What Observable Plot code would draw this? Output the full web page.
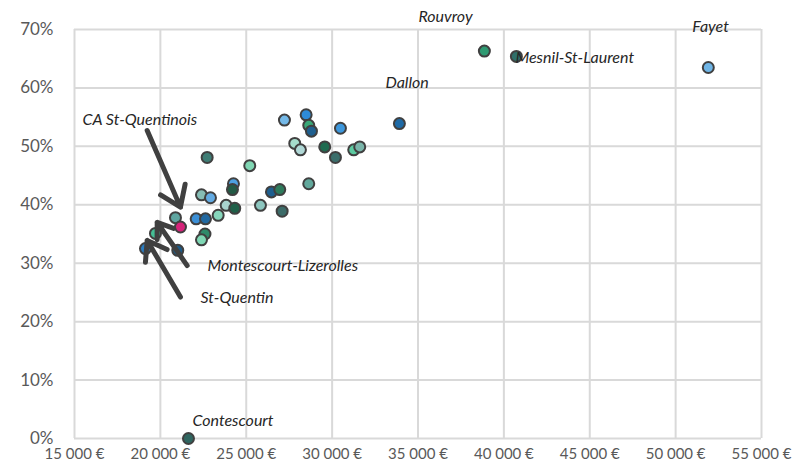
<!DOCTYPE html>
<html>
<head>
<meta charset="utf-8">
<script src="https://cdn.jsdelivr.net/npm/d3@7"></script>
<script src="https://cdn.jsdelivr.net/npm/@observablehq/plot@0.6"></script>
<style>
  html, body { margin: 0; padding: 0; background: #ffffff; }
  #chart svg { display: block; }
</style>
</head>
<body>
<div id="chart"></div>
<script>
// Revenu médian (€) et part (%) par commune
const revenus = [27224, 28487, 28639, 28796, 30484, 27824, 28155, 29570, 30193, 31258, 31608,
  22724, 25204, 24255, 24197, 22393, 22917, 26467, 26951, 28639, 23831, 24331, 25827, 27090,
  20879, 22084, 22626, 23365, 22597, 22393, 19715, 19133, 21013,
  21636, 33917, 38865, 40728, 51903, 21170];
const parts = [54.5, 55.4, 53.6, 52.6, 53.1, 50.5, 49.4, 49.9, 48.1, 49.4, 49.9,
  48.1, 46.7, 43.6, 42.6, 41.7, 41.2, 42.2, 42.6, 43.6, 39.9, 39.4, 39.9, 38.9,
  37.8, 37.6, 37.6, 38.2, 35.0, 34.0, 35.1, 32.5, 32.2,
  0.0, 53.9, 66.3, 65.4, 63.5, 36.2];
const couleurs = ["#74b9e8", "#2e8bd8", "#3aa878", "#1f5f8f", "#3d97dc", "#a5dccb", "#b0d8d6", "#1f6b50", "#3b6e6b", "#5ccaa0", "#7ab5aa",
  "#3f7d75", "#80d6b3", "#4ea0e0", "#235a45", "#86bdb5", "#62aae2", "#1f5f8f", "#2e7b5c", "#62a89c", "#a8d2cd", "#1f5f48", "#8dc6bf", "#3c6b68",
  "#5ea5a0", "#3b8fd6", "#2168a0", "#86d6bb", "#2e8a6a", "#7fd8b5", "#45bf95", "#2a7cc0", "#1d5a87",
  "#2f6660", "#1e6aa6", "#2f9a72", "#2f6f6a", "#6fb5e6", "#d6237a"];

// Étiquettes des communes (texte, position en unités des données)
const etiquettes = ["Rouvroy", "Mesnil-St-Laurent", "Fayet", "Dallon", "Contescourt", "CA St-Quentinois", "Montescourt-Lizerolles", "St-Quentin"];
const etiqX = [35024, 40671, 50974, 33103, 21869, 15466, 22742, 22334];
const etiqY = [72.1, 65.1, 70.5, 60.8, 3.1, 54.5, 29.5, 24.1];

// Flèches (départ -> arrivée, en unités des données)
const flecheX1 = [19232, 21560, 21170];
const flecheY1 = [52.7, 29.6, 24.2];
const flecheX2 = [21170, 19814, 19232];
const flecheY2 = [39.6, 37.0, 33.9];

// Graduations
const xTicks = [15000, 20000, 25000, 30000, 35000, 40000, 45000, 50000, 55000];
const xTickLabels = ["15 000 €", "20 000 €", "25 000 €", "30 000 €", "35 000 €", "40 000 €", "45 000 €", "50 000 €", "55 000 €"];
const yTicks = [0, 10, 20, 30, 40, 50, 60, 70];
const yTickLabels = ["0%", "10%", "20%", "30%", "40%", "50%", "60%", "70%"];

const points = revenus.map((r, i) => ({x: r, y: parts[i], c: couleurs[i]}));
const labels = etiquettes.map((t, i) => ({t, x: etiqX[i], y: etiqY[i]}));
const arrows = flecheX1.map((x1, i) => ({x1, y1: flecheY1[i], x2: flecheX2[i], y2: flecheY2[i]}));

const chart = Plot.plot({
  width: 798,
  height: 470,
  marginLeft: 74,
  marginRight: 37,
  marginTop: 29,
  marginBottom: 32,
  style: {fontFamily: "Lato, sans-serif", color: "#595959", background: "#ffffff", overflow: "visible"},
  x: {domain: [15000, 55000]},
  y: {domain: [0, 70]},
  marks: [
    Plot.gridX(xTicks, {stroke: "#d9d9d9", strokeOpacity: 1, strokeWidth: 2}),
    Plot.gridY(yTicks, {stroke: "#d9d9d9", strokeOpacity: 1, strokeWidth: 2}),
    Plot.axisX({ticks: xTicks, tickSize: 0, tickPadding: 10, fontSize: 15,
      tickFormat: d => xTickLabels[xTicks.indexOf(d)], label: null}),
    Plot.axisY({ticks: yTicks, tickSize: 0, tickPadding: 21, fontSize: 17,
      tickFormat: d => yTickLabels[yTicks.indexOf(d)], label: null}),
    Plot.dot(points, {x: "x", y: "y", fill: "c", r: 5.5, stroke: "#404040", strokeWidth: 2}),
    Plot.arrow(arrows, {x1: "x1", y1: "y1", x2: "x2", y2: "y2", stroke: "#404040", strokeWidth: 5, headLength: 7, headAngle: 70}),
    Plot.text(labels, {x: "x", y: "y", text: "t", textAnchor: "start", fontStyle: "italic", fontSize: 16,
      fontFamily: "Lato, sans-serif", fill: "#262626"})
  ]
});
document.getElementById("chart").appendChild(chart);
</script>
</body>
</html>
